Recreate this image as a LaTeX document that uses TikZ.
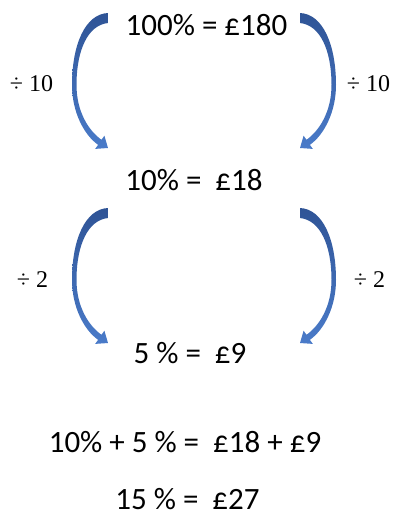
\documentclass[tikz,border=0pt]{standalone}
\usepackage{fontspec}
\setmainfont{Carlito}
\newfontfamily\labelfont{Liberation Serif}
\definecolor{arrtop}{HTML}{2F5496}
\definecolor{arrbot}{HTML}{4A7BC9}
\tikzset{
  eq/.style={inner sep=0pt, anchor=base, font=\fontsize{31}{37}\selectfont},
  op/.style={inner sep=0pt, anchor=base, font=\labelfont\fontsize{24}{28}\selectfont},
  curvearrow/.style={top color=arrtop, bottom color=arrbot, draw=none}
}
\newcommand{\bentarrow}{%
  \shade[curvearrow] (0,0) .. controls (-23,1) and (-36,32) .. (-36,72)
    .. controls (-36,99) and (-24,122) .. (-9.9,131.8)
    -- (-12.8,135.9) -- (0,135) -- (-3.6,122.7) -- (-6.5,126.8)
    .. controls (-19,118) and (-31.5,99) .. (-31.5,72)
    .. controls (-31.5,37) and (-20,12) .. (0,10) -- cycle;}
\begin{document}
\begin{tikzpicture}[x=1pt,y=-1pt]
\useasboundingbox (0,0) rectangle (396,517);
% equations
\node[eq] (l1) at (206.5,35) {100\% = £180};
\node[eq] (l2) at (194,190) {10\% =\ \ £18};
\node[eq] (l3) at (190,363) {5 \% =\ \ £9};
\node[eq] (l4) at (185,452) {10\% + 5 \% =\ \ £18 + £9};
\node[eq] (l5) at (187.5,509) {15 \% =\ \ £27};
% labels
\node[op] (d1l) at (31.5,91) {÷ 10};
\node[op] (d1r) at (368.5,91) {÷ 10};
\node[op] (d2l) at (32.5,287) {÷ 2};
\node[op] (d2r) at (369.5,287) {÷ 2};
% arrows
\begin{scope}[shift={(108,13)}] \bentarrow \end{scope}
\begin{scope}[shift={(300,13)},xscale=-1] \bentarrow \end{scope}
\begin{scope}[shift={(108,208)}] \bentarrow \end{scope}
\begin{scope}[shift={(300,208)},xscale=-1] \bentarrow \end{scope}
\end{tikzpicture}
\end{document}
